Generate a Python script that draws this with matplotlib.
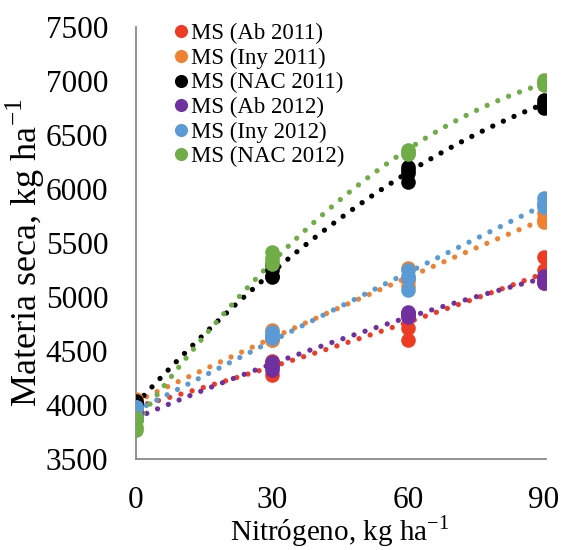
import matplotlib
matplotlib.use("Agg")
import matplotlib.pyplot as plt
import numpy as np

plt.rcParams["font.family"] = "Liberation Serif"
plt.rcParams["mathtext.fontset"] = "custom"
plt.rcParams["mathtext.rm"] = "Liberation Serif"

# Nitrogen doses (four replicates per dose, some hidden under other markers)
nitrogen = [0, 0, 0, 0, 30, 30, 30, 30, 60, 60, 60, 60, 90, 90, 90, 90]

ab_2011 = [4000, 3950, 3990, 3980, 4390, 4280, 4400, 4410,
           4715, 4600, 4850, 4855, 5370, 5250, 5150, 5130]
iny_2011 = [4040, 4020, 4060, 4000, 4700, 4600, 4620, 4600,
            5270, 5175, 5100, 5150, 5780, 5695, 5720, 5700]
nac_2011 = [4040, 4010, 4000, 3990, 5200, 5185, 5250, 5300,
            6150, 6065, 6180, 6200, 6825, 6750, 6780, 6800]
ab_2012 = [3925, 3890, 3870, 3875, 4400, 4330, 4360, 4350,
           4860, 4815, 4840, 4830, 5200, 5185, 5130, 5160]
iny_2012 = [3860, 3900, 3980, 3980, 4650, 4680, 4640, 4620,
            5250, 5065, 5200, 5180, 5915, 5835, 5870, 5860]
nac_2012 = [3880, 3770, 3860, 3800, 5415, 5360, 5310, 5330,
            6360, 6330, 6340, 6320, 7010, 6960, 6990, 6980]

labels = ["MS (Ab 2011)", "MS (Iny 2011)", "MS (NAC 2011)",
          "MS (Ab 2012)", "MS (Iny 2012)", "MS (NAC 2012)"]
colors = ["#EE3B24", "#F08131", "#000000", "#7030A0", "#5B9BD5", "#70AD47"]
series = [ab_2011, iny_2011, nac_2011, ab_2012, iny_2012, nac_2012]

fig = plt.figure(figsize=(5.62, 5.5), dpi=100)
ax = fig.add_axes([0.242, 0.165, 0.73, 0.786])

x = np.array(nitrogen)
xs = np.linspace(0, 90, 200)
handles = []
for y, c in zip(series, colors):
    # polynomial trendline (order 2) like the spreadsheet
    coef = np.polyfit(x, np.array(y), 2)
    ax.plot(xs, np.polyval(coef, xs), color=c, lw=3.8,
            linestyle=(0, (0.01, 2.2)), dash_capstyle="round", zorder=2)
for y, c, lab in zip(series, colors, labels):
    h, = ax.plot(x, y, "o", color=c, ms=10.5, mec="none", label=lab, zorder=3)
    handles.append(h)

ax.set_xlim(0, 90.5)
ax.set_ylim(3500, 7500)
ax.set_xticks([0, 30, 60, 90])
ax.set_yticks(np.arange(3500, 7501, 500))
ax.tick_params(length=0, labelsize=22.5)
ax.tick_params(axis="x", pad=19)
ax.tick_params(axis="y", pad=20)
for s in ["top", "right"]:
    ax.spines[s].set_visible(False)
for s in ["left", "bottom"]:
    ax.spines[s].set_color("#7f7f7f")
    ax.spines[s].set_linewidth(1.2)

fig.text(340 / 562, 1 - 540 / 550, r"Nitrógeno, kg ha$^{\mathregular{-1}}$",
         fontsize=21, ha="center", va="baseline")
fig.text(25 / 562, 1 - 253 / 550, r"Materia seca, kg ha$^{\mathregular{-1}}$",
         fontsize=26, ha="center", va="center", rotation=90)

leg = ax.legend(handles=handles, loc="upper left", bbox_to_anchor=(0.071, 1.03),
                frameon=False, fontsize=16.5, handlelength=0.6, handletextpad=0.15,
                labelspacing=0.15, borderaxespad=0, markerscale=0.9)

fig.savefig("out.png", dpi=100)
